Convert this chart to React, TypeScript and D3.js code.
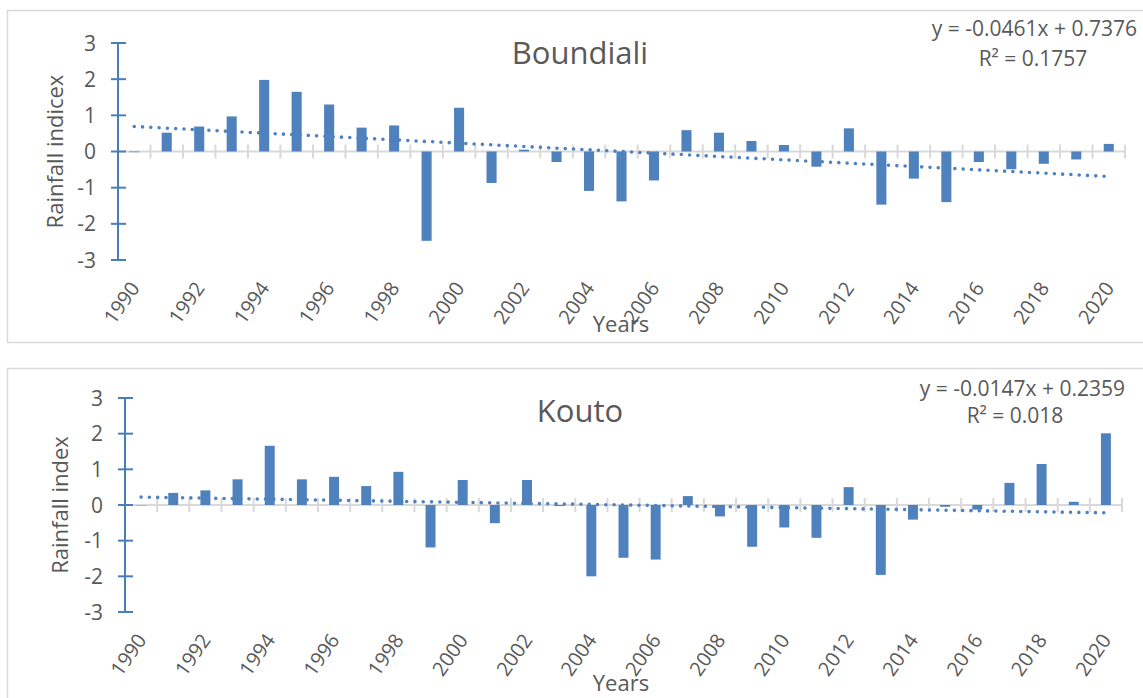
import React from "react";
import * as d3 from "d3";

const years: number[] = d3.range(1990, 2021);
const yTicks: number[] = [-3, -2, -1, 0, 1, 2, 3];
const xTickLabels: number[] = years.filter((y) => (y - 1990) % 2 === 0);

const boundialiValues: number[] = [
  -0.02, 0.52, 0.69, 0.97, 1.98, 1.65, 1.3, 0.66, 0.72, -2.47,
  1.21, -0.87, 0.05, -0.29, -1.09, -1.38, -0.8, 0.59, 0.52, 0.29,
  0.18, -0.42, 0.64, -1.47, -0.75, -1.4, -0.29, -0.49, -0.34, -0.22,
  0.21,
];
const koutoValues: number[] = [
  -0.01, 0.34, 0.41, 0.72, 1.66, 0.72, 0.79, 0.53, 0.93, -1.19,
  0.7, -0.51, 0.7, -0.03, -2.0, -1.48, -1.53, 0.25, -0.32, -1.17,
  -0.63, -0.92, 0.5, -1.96, -0.41, -0.05, -0.13, 0.62, 1.15, 0.09,
  2.01,
];

const boundialiTrend: number[] = [-0.0461, 0.7376];
const koutoTrend: number[] = [-0.0147, 0.2359];

const boundialiEquation: string[] = ["y = -0.0461x + 0.7376", "R² = 0.1757"];
const koutoEquation: string[] = ["y = -0.0147x + 0.2359", "R² = 0.018"];

const FONT = "'Open Sans', 'Liberation Sans', sans-serif";
const TEXT = "#595959";
const BAR = "#4f81bd";
const AXIS_BLUE = "#4a7ebb";
const GRID = "#d9d9d9";

type PanelProps = {
  title: string;
  yLabel: string;
  values: number[];
  trend: number[];
  equation: string[];
  frameTop: number;
  frameHeight: number;
  x0: number;
  x1: number;
  yTop: number;
  yBottom: number;
  titleY: number;
  eqRight: number;
  eqY1: number;
  eqY2: number;
  eqCenter: number;
  yLabelX: number;
  yearsY: number;
};

function Panel(p: PanelProps) {
  const x = d3
    .scaleBand<number>()
    .domain(years)
    .range([p.x0, p.x1])
    .paddingInner(0.69)
    .paddingOuter(0.345);
  const y = d3.scaleLinear().domain([-3, 3]).range([p.yBottom, p.yTop]);
  const step = x.step();
  const center = (yr: number) => (x(yr) as number) + x.bandwidth() / 2;
  const zeroY = y(0);

  const trendLine = d3
    .line<number>()
    .x((yr) => center(yr))
    .y((yr, i) => y(p.trend[0] * (i + 1) + p.trend[1]));

  return (
    <g>
      <rect
        x={7.5}
        y={p.frameTop + 0.5}
        width={1150}
        height={p.frameHeight}
        fill="#fff"
        stroke={GRID}
        strokeWidth={1.5}
      />
      <text
        x={580}
        y={p.titleY}
        textAnchor="middle"
        fontSize={31}
        fill={TEXT}
        fontFamily={FONT}
      >
        {p.title}
      </text>
      <text
        x={p.eqRight}
        y={p.eqY1}
        textAnchor="end"
        fontSize={21}
        fill={TEXT}
        fontFamily={FONT}
      >
        {p.equation[0]}
      </text>
      <text
        x={p.eqCenter}
        y={p.eqY2}
        textAnchor="middle"
        fontSize={21}
        fill={TEXT}
        fontFamily={FONT}
      >
        {p.equation[1]}
      </text>
      <line
        x1={p.x0}
        x2={p.x1}
        y1={zeroY}
        y2={zeroY}
        stroke={GRID}
        strokeWidth={2}
      />
      {d3.range(years.length + 1).map((i) => (
        <line
          key={"xt" + i}
          x1={p.x0 + i * step}
          x2={p.x0 + i * step}
          y1={zeroY - 7}
          y2={zeroY + 7}
          stroke={GRID}
          strokeWidth={2}
        />
      ))}
      {p.values.map((v, i) => (
        <rect
          key={"b" + i}
          x={x(years[i])}
          width={x.bandwidth()}
          y={Math.min(y(v), zeroY)}
          height={Math.abs(y(v) - zeroY)}
          fill={BAR}
        />
      ))}
      <path
        d={trendLine(years) || ""}
        fill="none"
        stroke={BAR}
        strokeWidth={3.6}
        strokeLinecap="round"
        strokeDasharray="0 8.3"
      />
      <line
        x1={p.x0}
        x2={p.x0}
        y1={y(3)}
        y2={y(-3)}
        stroke={AXIS_BLUE}
        strokeWidth={2}
      />
      {yTicks.map((t) => (
        <g key={"yt" + t}>
          <line
            x1={p.x0 - 7}
            x2={p.x0 + 8}
            y1={y(t)}
            y2={y(t)}
            stroke={AXIS_BLUE}
            strokeWidth={2}
          />
          <text
            x={p.x0 - 22}
            y={y(t)}
            dy="0.36em"
            textAnchor="end"
            fontSize={21}
            fill={TEXT}
            fontFamily={FONT}
          >
            {t}
          </text>
        </g>
      ))}
      {xTickLabels.map((yr) => (
        <text
          key={"xl" + yr}
          transform={`translate(${center(yr) + 0.5},${p.yBottom + 24}) rotate(-55)`}
          dy="0.35em"
          textAnchor="end"
          fontSize={20}
          fill={TEXT}
          fontFamily={FONT}
        >
          {yr}
        </text>
      ))}
      <text
        transform={`translate(${p.yLabelX},${(y(3) + y(-3)) / 2}) rotate(-90)`}
        dy="0.35em"
        textAnchor="middle"
        fontSize={22}
        fill={TEXT}
        fontFamily={FONT}
      >
        {p.yLabel}
      </text>
      <text
        x={621}
        y={p.yearsY}
        textAnchor="middle"
        fontSize={22}
        fill={TEXT}
        fontFamily={FONT}
      >
        Years
      </text>
    </g>
  );
}

export default function App() {
  return (
    <svg
      width={1143}
      height={698}
      style={{ position: "absolute", left: 0, top: 0, display: "block" }}
    >
      <rect x={0} y={0} width={1143} height={698} fill="#fff" />
      <Panel
        title="Boundiali"
        yLabel="Rainfall indicex"
        values={boundialiValues}
        trend={boundialiTrend}
        equation={boundialiEquation}
        frameTop={10}
        frameHeight={332}
        x0={118}
        x1={1125}
        yTop={43}
        yBottom={260}
        titleY={64}
        eqRight={1137}
        eqY1={36}
        eqY2={66}
        eqCenter={1033}
        yLabelX={55}
        yearsY={332}
      />
      <Panel
        title="Kouto"
        yLabel="Rainfall index"
        values={koutoValues}
        trend={koutoTrend}
        equation={koutoEquation}
        frameTop={368}
        frameHeight={345}
        x0={125}
        x1={1122}
        yTop={398}
        yBottom={612}
        titleY={422}
        eqRight={1125}
        eqY1={396}
        eqY2={423}
        eqCenter={1015}
        yLabelX={60}
        yearsY={691}
      />
    </svg>
  );
}
